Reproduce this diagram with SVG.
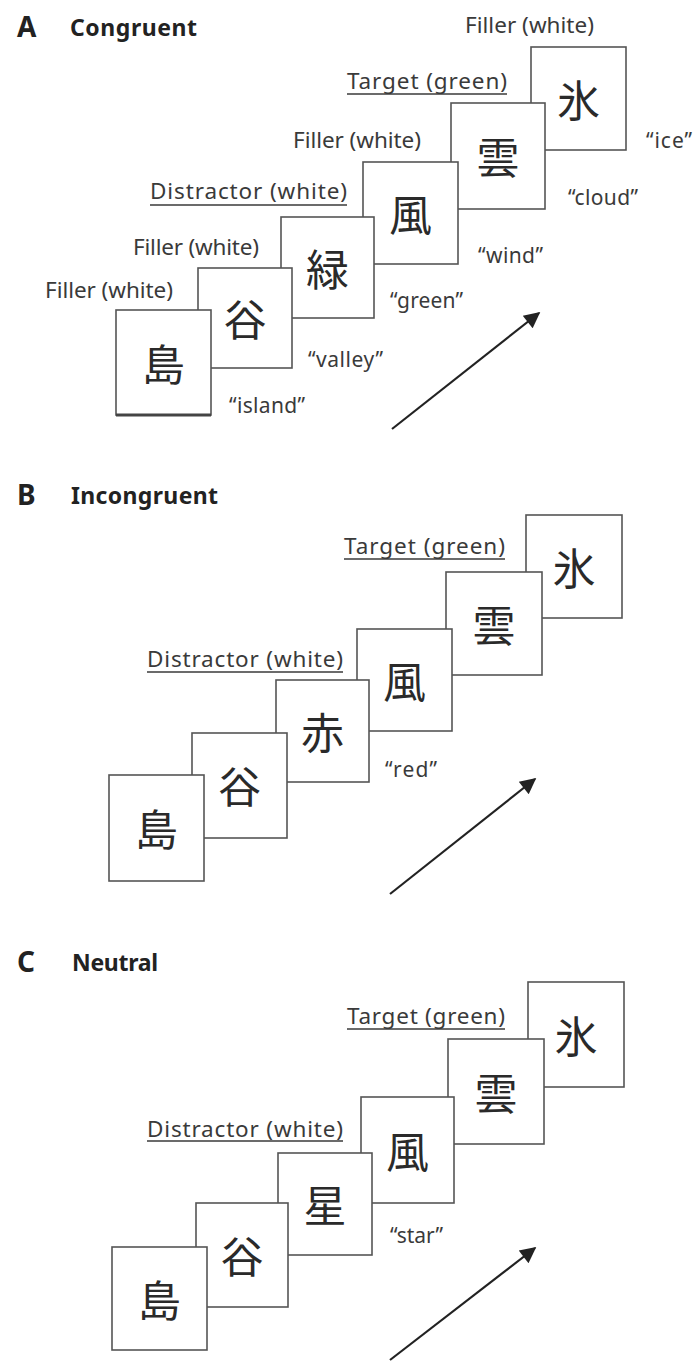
<svg xmlns="http://www.w3.org/2000/svg" width="694" height="1361" viewBox="0 0 694 1361">
<style>
.bg{fill:#fff}
.box{fill:#fff;stroke:#555;stroke-width:1.6}
.kj{font-family:"Noto Sans CJK JP","Noto Sans CJK SC",sans-serif;font-size:43px;fill:#2a2a2a;text-anchor:middle}
.lbl{font-family:"Noto Sans","Open Sans",sans-serif;font-size:22.5px;fill:#3a3a3a}
.wd{font-family:"Noto Sans","Open Sans",sans-serif;font-size:21px;fill:#3a3a3a}
.ul{stroke:#3a3a3a;stroke-width:1.6}
.pl{font-family:"Noto Sans","Open Sans",sans-serif;font-size:28px;font-weight:bold;fill:#222}
.tt{font-family:"Noto Sans","Open Sans",sans-serif;font-size:23px;font-weight:bold;fill:#222}
.arr{stroke:#222;stroke-width:2.2;fill:none;marker-end:url(#ah)}
</style>
<defs>
<marker id="ah" viewBox="0 0 10 10" refX="9" refY="5" markerWidth="22" markerHeight="16" markerUnits="userSpaceOnUse" orient="auto">
<path d="M0,0 L10,5 L0,10 z" fill="#222"/>
</marker>
</defs>
<rect class="bg" x="0" y="0" width="694" height="1361"/>

<!-- Panel A -->
<g id="titleA"><text class="pl" x="17" y="37">A</text><text class="tt" x="70" y="36" textLength="127" lengthAdjust="spacing">Congruent</text></g>
<g id="A-ice"><rect class="box" x="531" y="47" width="95" height="103"/><text class="kj" x="578.5" y="117">氷</text></g>
<g id="A-cloud"><rect class="box" x="451" y="103" width="94" height="106"/><text class="kj" x="498" y="174">雲</text></g>
<g id="A-wind"><rect class="box" x="363" y="162" width="95" height="102"/><text class="kj" x="410.5" y="231">風</text></g>
<g id="A-green"><rect class="box" x="281" y="217" width="93" height="101"/><text class="kj" x="327.5" y="286">緑</text></g>
<g id="A-valley"><rect class="box" x="198" y="268" width="94" height="100"/><text class="kj" x="245" y="336">谷</text></g>
<g id="A-island"><rect class="box" x="116" y="310" width="95" height="105"/><line x1="116" y1="415" x2="211" y2="415" stroke="#444" stroke-width="3"/><text class="kj" x="163.5" y="381">島</text></g>

<g id="A-labels">
<text class="lbl" x="465" y="33" textLength="129" lengthAdjust="spacing">Filler (white)</text>
<text class="lbl" x="347" y="89" textLength="160" lengthAdjust="spacing">Target (green)</text><line class="ul" x1="347" y1="94" x2="507" y2="94"/>
<text class="lbl" x="293" y="148" textLength="128" lengthAdjust="spacing">Filler (white)</text>
<text class="lbl" x="150" y="199" textLength="197" lengthAdjust="spacing">Distractor (white)</text><line class="ul" x1="150" y1="205" x2="347" y2="205"/>
<text class="lbl" x="133" y="255" textLength="126" lengthAdjust="spacing">Filler (white)</text>
<text class="lbl" x="45" y="298" textLength="128" lengthAdjust="spacing">Filler (white)</text>
<text class="wd" x="646" y="148" textLength="46" lengthAdjust="spacing">“ice”</text>
<text class="wd" x="568" y="205" textLength="70" lengthAdjust="spacing">“cloud”</text>
<text class="wd" x="478" y="263" textLength="65" lengthAdjust="spacing">“wind”</text>
<text class="wd" x="390" y="308" textLength="73" lengthAdjust="spacing">“green”</text>
<text class="wd" x="308" y="367" textLength="75" lengthAdjust="spacing">“valley”</text>
<text class="wd" x="229" y="413" textLength="76" lengthAdjust="spacing">“island”</text>
</g>

<!-- Panel B -->
<g id="titleB"><text class="pl" x="17" y="505">B</text><text class="tt" x="71" y="504" textLength="147" lengthAdjust="spacing">Incongruent</text></g>
<g id="B-ice"><rect class="box" x="526" y="515" width="96" height="103"/><text class="kj" x="574" y="585">氷</text></g>
<g id="B-cloud"><rect class="box" x="446" y="572" width="96" height="103"/><text class="kj" x="494" y="642">雲</text></g>
<g id="B-wind"><rect class="box" x="357" y="629" width="95" height="102"/><text class="kj" x="404.5" y="698">風</text></g>
<g id="B-red"><rect class="box" x="276" y="680" width="93" height="102"/><text class="kj" x="322.5" y="749">赤</text></g>
<g id="B-valley"><rect class="box" x="192" y="733" width="95" height="105"/><text class="kj" x="239.5" y="803">谷</text></g>
<g id="B-island"><rect class="box" x="109" y="775" width="95" height="106"/><text class="kj" x="156.5" y="846">島</text></g>
<g id="B-labels">
<text class="lbl" x="344" y="554" textLength="161" lengthAdjust="spacing">Target (green)</text><line class="ul" x1="344" y1="559" x2="505" y2="559"/>
<text class="lbl" x="147" y="667" textLength="196" lengthAdjust="spacing">Distractor (white)</text><line class="ul" x1="147" y1="672" x2="343" y2="672"/>
<text class="wd" x="385" y="777" textLength="52" lengthAdjust="spacing">“red”</text>
</g>

<!-- Panel C -->
<g id="titleC"><text class="pl" x="17" y="972">C</text><text class="tt" x="72" y="971" textLength="86" lengthAdjust="spacing">Neutral</text></g>
<g id="C-ice"><rect class="box" x="528" y="982" width="96" height="105"/><text class="kj" x="576" y="1053">氷</text></g>
<g id="C-cloud"><rect class="box" x="448" y="1039" width="96" height="105"/><text class="kj" x="496" y="1110">雲</text></g>
<g id="C-wind"><rect class="box" x="361" y="1097" width="93" height="106"/><text class="kj" x="407.5" y="1168">風</text></g>
<g id="C-star"><rect class="box" x="278" y="1153" width="94" height="102"/><text class="kj" x="325" y="1222">星</text></g>
<g id="C-valley"><rect class="box" x="196" y="1203" width="92" height="104"/><text class="kj" x="242" y="1273">谷</text></g>
<g id="C-island"><rect class="box" x="112" y="1247" width="95" height="103"/><text class="kj" x="159.5" y="1317">島</text></g>
<g id="C-labels">
<text class="lbl" x="347" y="1024" textLength="158" lengthAdjust="spacing">Target (green)</text><line class="ul" x1="347" y1="1029" x2="505" y2="1029"/>
<text class="lbl" x="147" y="1137" textLength="196" lengthAdjust="spacing">Distractor (white)</text><line class="ul" x1="147" y1="1141" x2="343" y2="1141"/>
<text class="wd" x="390" y="1243" textLength="53" lengthAdjust="spacing">“star”</text>
</g>

<g id="connectors">
<line class="arr" x1="392" y1="429" x2="539" y2="313"/>
<line class="arr" x1="390" y1="894" x2="535" y2="779"/>
<line class="arr" x1="390" y1="1360" x2="535" y2="1248"/>
</g>
</svg>
